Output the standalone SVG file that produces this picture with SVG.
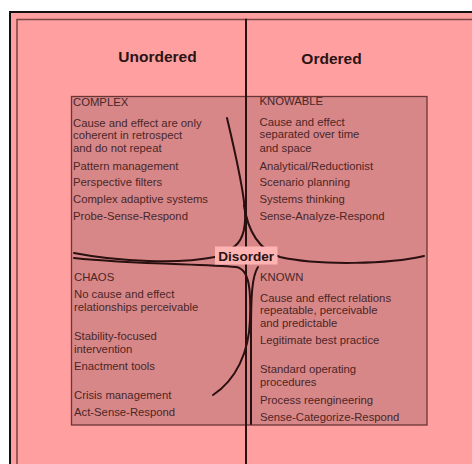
<svg xmlns="http://www.w3.org/2000/svg" width="472" height="464" viewBox="0 0 472 464">
<style>
.hdr{font-family:"Liberation Sans",Arial,sans-serif;font-weight:bold;font-size:15.5px;fill:#2a1414;text-anchor:middle}
.t{font-family:"Liberation Sans",Arial,sans-serif;font-size:11.3px;fill:#4a2626}
.c{fill:none;stroke:#2a1010;stroke-width:2;stroke-linecap:round}
</style>
<rect width="472" height="464" fill="#ffffff"/>
<g id="frame">
<rect x="10" y="12" width="480" height="480" fill="#ff9f9f" stroke="#111" stroke-width="2"/>
<rect x="17" y="19.5" width="470" height="470" fill="none" stroke="#7a4444" stroke-width="1.5"/>
</g>
<g id="box">
<rect x="71.5" y="96.5" width="355.5" height="328.5" fill="#d88788" stroke="#6b3535" stroke-width="1.3"/>
</g>
<g id="headers">
<text class="hdr" x="157.5" y="62">Unordered</text>
<text class="hdr" x="331.5" y="63.5">Ordered</text>
</g>
<g id="connectors">
<line class="c" x1="246" y1="19.5" x2="246" y2="466"/>
<path class="c" d="M227,118 C237,160 244,192 245,212 C246,232 241,243 232,248"/>
<path class="c" d="M244,205 C248,233 260,250 280,257 C320,266 390,264 424,256"/>
<path class="c" d="M74,253 C120,262 180,264 215,257"/>
<path class="c" d="M74,258 C130,264 200,264 236,267 C250,269 251,292 250,320 C249,352 236,380 213,395"/>
<path class="c" d="M258,267 C252,276 251,296 251,330 L251,424"/>
</g>
<g id="disorder">
<rect x="215" y="246.5" width="62.5" height="18" fill="#ffb3b3"/>
<text x="246.2" y="260.7" font-family="'Liberation Sans',Arial,sans-serif" font-weight="bold" font-size="13.6" fill="#2a1414" text-anchor="middle">Disorder</text>
</g>
<g id="complex">
<text class="t" x="73" y="106">COMPLEX</text>
<text class="t" x="73" y="127">Cause and effect are only</text>
<text class="t" x="73" y="139">coherent in retrospect</text>
<text class="t" x="73" y="151.5">and do not repeat</text>
<text class="t" x="73" y="169.5">Pattern management</text>
<text class="t" x="73" y="186">Perspective filters</text>
<text class="t" x="73" y="203">Complex adaptive systems</text>
<text class="t" x="73" y="220">Probe-Sense-Respond</text>
</g>
<g id="knowable">
<text class="t" x="259.5" y="105">KNOWABLE</text>
<text class="t" x="259.5" y="126">Cause and effect</text>
<text class="t" x="259.5" y="138">separated over time</text>
<text class="t" x="259.5" y="151.5">and space</text>
<text class="t" x="259.5" y="169.5">Analytical/Reductionist</text>
<text class="t" x="259.5" y="186">Scenario planning</text>
<text class="t" x="259.5" y="203">Systems thinking</text>
<text class="t" x="259.5" y="220">Sense-Analyze-Respond</text>
</g>
<g id="chaos">
<text class="t" x="74" y="281">CHAOS</text>
<text class="t" x="74" y="298">No cause and effect</text>
<text class="t" x="74" y="311">relationships perceivable</text>
<text class="t" x="74" y="340">Stability-focused</text>
<text class="t" x="74" y="352.5">intervention</text>
<text class="t" x="74" y="370">Enactment tools</text>
<text class="t" x="74" y="399">Crisis management</text>
<text class="t" x="74" y="416">Act-Sense-Respond</text>
</g>
<g id="known">
<text class="t" x="260" y="281">KNOWN</text>
<text class="t" x="260" y="302">Cause and effect relations</text>
<text class="t" x="260" y="314">repeatable, perceivable</text>
<text class="t" x="260" y="326.5">and predictable</text>
<text class="t" x="260" y="344">Legitimate best practice</text>
<text class="t" x="260" y="373">Standard operating</text>
<text class="t" x="260" y="386">procedures</text>
<text class="t" x="260" y="404">Process reengineering</text>
<text class="t" x="260" y="421">Sense-Categorize-Respond</text>
</g>
</svg>
